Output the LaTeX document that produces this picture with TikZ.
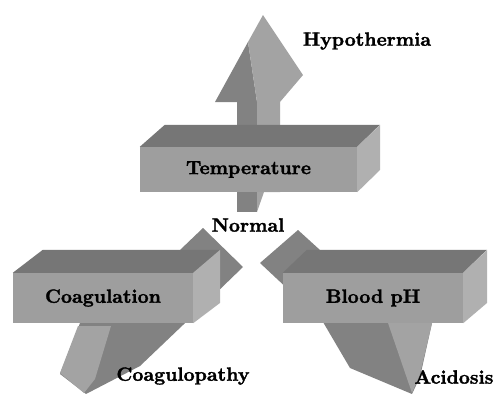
\documentclass[tikz,border=0pt]{standalone}
\usepackage{fontspec}
\newfontfamily\lblfont{lmroman10-bold}[Extension=.otf, FakeBold=1.6]
\begin{document}
\begin{tikzpicture}[x=1pt,y=-1pt,
  lbl/.style={font=\fontsize{19.2}{22}\lblfont, inner sep=0pt, text=black},
  frontbox/.style={fill=boxfront, draw=none, inner sep=0pt, font=\fontsize{19.2}{22}\lblfont},
  topface/.style={fill=boxtop, draw=none},
  sideface/.style={fill=boxside, draw=none},
  arrdark/.style={fill=arrowdark, draw=none},
  arrlight/.style={fill=arrowlight, draw=none}]
\definecolor{boxfront}{RGB}{158,158,158}
\definecolor{boxtop}{RGB}{118,118,118}
\definecolor{boxside}{RGB}{176,176,176}
\definecolor{arrowdark}{RGB}{130,130,130}
\definecolor{arrowlight}{RGB}{163,163,163}
\useasboundingbox (0,0) rectangle (499,394);
\fill[white] (0,0) rectangle (499,394);

% ---- up arrow (Temperature -> Hypothermia)
\fill[arrdark] (237,102) -- (257,102) -- (257,212) -- (237,212) -- cycle;
\fill[arrlight] (257,102) -- (280,102) -- (280,192) -- (264,192) -- (257,212) -- cycle;
\fill[arrdark] (215,102) -- (248,42) -- (257,102) -- cycle;
\fill[arrlight] (248,42) -- (263,15) -- (303,75) -- (280,102) -- (257,102) -- cycle;

% ---- down-left arrow (Coagulation -> Coagulopathy)
\fill[arrdark] (203,228) -- (243,267) -- (183,325) -- (140,366) -- (86,394) -- (60,374) -- (80,323) -- (130,298) -- (180,250) -- cycle;
\fill[arrlight] (78,326) -- (60,373) -- (84,393) -- (95,379) -- (111,326) -- cycle;

% ---- down-right arrow (Blood pH -> Acidosis)
\fill[arrdark] (298,230) -- (260,263) -- (323,322) -- (350,368) -- (412,394) -- (420,377) -- (432,323) -- (360,286) -- (320,250) -- cycle;
\fill[arrlight] (388,323) -- (432,323) -- (420,374) -- (412,393) -- (400,358) -- cycle;

% ---- Temperature box
\node[frontbox, minimum width=217pt, minimum height=45pt] (temp) at (248.5,169.5) {Temperature};
\fill[topface] (temp.north west) -- ++(25,-22) -- ++(215,0) -- (temp.north east) -- cycle;
\fill[sideface] (temp.north east) -- ++(23,-22) -- ++(0,45) -- (temp.south east) -- cycle;

% ---- Coagulation box
\node[frontbox, minimum width=180pt, minimum height=50pt] (coag) at (103,298) {Coagulation};
\fill[topface] (coag.north west) -- ++(30,-23) -- ++(177,0) -- (coag.north east) -- cycle;
\fill[sideface] (coag.north east) -- ++(27,-23) -- ++(0,53) -- (coag.south east) -- cycle;

% ---- Blood pH box
\node[frontbox, minimum width=180pt, minimum height=50pt] (ph) at (373,298) {Blood pH};
\fill[topface] (ph.north west) -- ++(24,-23) -- ++(180,0) -- (ph.north east) -- cycle;
\fill[sideface] (ph.north east) -- ++(24,-23) -- ++(0,53) -- (ph.south east) -- cycle;

% ---- labels
\node[lbl] (hypo) at (367,41) {Hypothermia};
\node[lbl] (normal) at (248,225) {Normal};
\node[lbl] (coagpathy) at (183,376) {Coagulopathy};
\node[lbl] (acid) at (454,377) {Acidosis};
\end{tikzpicture}
\end{document}
